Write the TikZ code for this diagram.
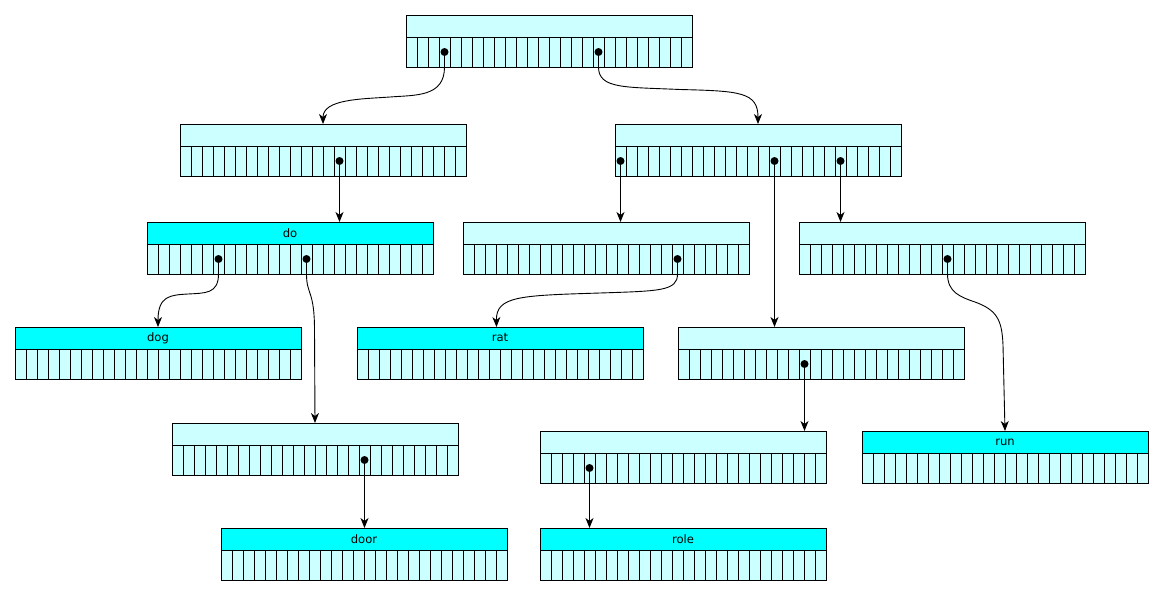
\documentclass[tikz,border=0pt]{standalone}
\usepackage{fontspec}
\setmainfont{DejaVu Sans}
\usetikzlibrary{arrows.meta,calc}
\definecolor{lightcy}{HTML}{CCFFFF}
\definecolor{fullcy}{HTML}{00FFFF}
\tikzset{
 hdr/.style={draw=black, line width=1pt, fill=lightcy, minimum width=286pt, minimum height=22pt, inner sep=0pt, outer sep=0pt, anchor=north west, font=\fontsize{11.6}{13}\selectfont},
 leafhdr/.style={hdr, fill=fullcy},
 cellrow/.style={draw=black, line width=1pt, fill=lightcy, minimum width=286pt, minimum height=30pt, inner sep=0pt, outer sep=0pt, anchor=north west},
 cellsep/.style={line width=0.85pt},
 ptr/.style={circle, fill=black, inner sep=0pt, minimum size=8pt, outer sep=0pt},
 link/.style={line width=0.9pt, -{Stealth[length=10pt,width=8pt,inset=3pt]}},
}
\newcommand{\trienode}[5]{%
  \node[#4] (#1) at (#2,#3) {#5};
  \node[cellrow] (#1-c) at (#2,#3+22) {};
  \foreach \ci in {1,...,25}{\draw[cellsep] ($(#1-c.north west)+(\ci*11,0)$) -- ++(0,30);}
}
\newcommand{\ptrat}[3]{%
  \node[ptr] (#3) at ($(#1-c.north west)+(#2*11+5.5,15)$) {};
}
\begin{document}
\begin{tikzpicture}[x=1pt,y=-1pt]
\useasboundingbox (0,0) rectangle (1163,595);
\trienode{root}{406}{15}{hdr}{}
\trienode{nA}{180}{124}{hdr}{}
\trienode{nB}{615}{124}{hdr}{}
\trienode{ndo}{147}{222}{leafhdr}{do}
\trienode{nC}{463}{222}{hdr}{}
\trienode{nD}{799}{222}{hdr}{}
\trienode{ndog}{15}{327}{leafhdr}{dog}
\trienode{nrat}{357}{327}{leafhdr}{rat}
\trienode{nE}{678}{327}{hdr}{}
\trienode{nF}{172}{423}{hdr}{}
\trienode{nG}{540}{431}{hdr}{}
\trienode{nrun}{862}{431}{leafhdr}{run}
\trienode{ndoor}{221}{528}{leafhdr}{door}
\trienode{nrole}{540}{528}{leafhdr}{role}
\ptrat{root}{3}{root-d}
\ptrat{root}{17}{root-r}
\ptrat{nA}{14}{nA-o}
\ptrat{nB}{0}{nB-a}
\ptrat{nB}{14}{nB-o}
\ptrat{nB}{20}{nB-u}
\ptrat{ndo}{6}{ndo-g}
\ptrat{ndo}{14}{ndo-o}
\ptrat{nC}{19}{nC-t}
\ptrat{nD}{13}{nD-n}
\ptrat{nE}{11}{nE-l}
\ptrat{nF}{17}{nF-r}
\ptrat{nG}{4}{nG-e}
\draw[link] (root-d) -- (root-d |- root-c.south) .. controls (444.5,97) and (416,95) .. (390,97) .. controls (362,99) and (323,99) .. (nA.north);
\draw[link] (root-r) -- (root-r |- root-c.south) .. controls (598.5,89) and (625,87) .. (680,89.5) .. controls (740,91) and (758,92) .. (nB.north);
\draw[link] (nA-o) -- (nA-o |- ndo.north);
\draw[link] (nB-a) -- (nB-a |- nC.north);
\draw[link] (nB-o) -- (nB-o |- nE.north);
\draw[link] (nB-u) -- (nB-u |- nD.north);
\draw[link] (ndo-g) -- (ndo-g |- ndo-c.south) .. controls (218.5,294) and (205,293) .. (188,294) .. controls (170,295) and (158,296) .. (ndog.north);
\draw[link] (ndo-o) -- (ndo-o |- ndo-c.south) .. controls (306.5,295) and (314.5,290) .. (314.5,330) -- (nF.north);
\draw[link] (nC-t) -- (nC-t |- nC-c.south) .. controls (677.5,291) and (660,291) .. (600,293) .. controls (520,295.5) and (496,296) .. ($(nrat.north)+(-3.5,0)$);
\draw[link] (nD-n) -- (nD-n |- nD-c.south) .. controls (947.5,292) and (960,297) .. (975,302) .. controls (997,310) and (1002,320) .. (1003,345) -- (nrun.north);
\draw[link] (nE-l) -- (nE-l |- nG.north);
\draw[link] (nF-r) -- (nF-r |- ndoor.north);
\draw[link] (nG-e) -- (nG-e |- nrole.north);
\end{tikzpicture}
\end{document}
